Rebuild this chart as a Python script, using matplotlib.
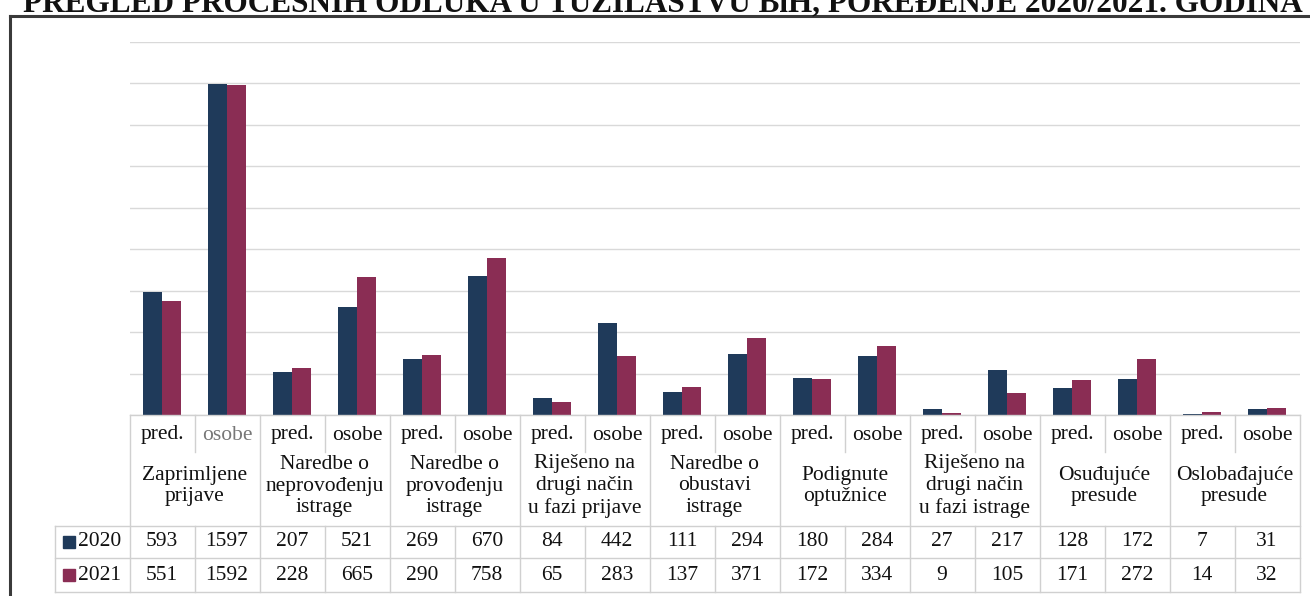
import matplotlib
matplotlib.use("Agg")
import matplotlib.pyplot as plt
from matplotlib.lines import Line2D
from matplotlib.transforms import blended_transform_factory

plt.rcParams['font.family'] = ['Liberation Serif', 'DejaVu Serif']

title = "PREGLED PROCESNIH ODLUKA U TUŽILAŠTVU BiH, POREĐENJE 2020/2021. GODINA"
groups = ["Zaprimljene\nprijave",
          "Naredbe o\nneprovođenju\nistrage",
          "Naredbe o\nprovođenju\nistrage",
          "Riješeno na\ndrugi način\nu fazi prijave",
          "Naredbe o\nobustavi\nistrage",
          "Podignute\noptužnice",
          "Riješeno na\ndrugi način\nu fazi istrage",
          "Osuđujuće\npresude",
          "Oslobađajuće\npresude"]
subs = ["pred.", "osobe"]
series = ["2020", "2021"]
v2020 = [593, 1597, 207, 521, 269, 670, 84, 442, 111, 294, 180, 284, 27, 217, 128, 172, 7, 31]
v2021 = [551, 1592, 228, 665, 290, 758, 65, 283, 137, 371, 172, 334, 9, 105, 171, 272, 14, 32]
colors = ["#1f3a5a", "#8a2d54"]

W, H = 1310, 596
fig = plt.figure(figsize=(W / 100, H / 100), dpi=100)


def fy(py):
    # pixel row from top -> figure fraction
    return 1 - py / H


def fx(px):
    return px / W


# plot area
x0, x1 = 129.5, 1299.5
y_base, y_top = 415, 42
ax = fig.add_axes([fx(x0), fy(y_base), fx(x1) - fx(x0), fy(y_top) - fy(y_base)])
n = len(v2020)
xs = list(range(n))
bw = 0.29
ax.bar([x - bw / 2 for x in xs], v2020, width=bw, color=colors[0], zorder=3)
ax.bar([x + bw / 2 for x in xs], v2021, width=bw, color=colors[1], zorder=3)
ax.set_xlim(-0.5, n - 0.5)
ax.set_ylim(0, 1800)
ax.set_yticks(range(0, 1801, 200))
ax.yaxis.grid(True, color="#d9d9d9", linewidth=1)
ax.set_axisbelow(True)
ax.tick_params(left=False, bottom=False, labelleft=False, labelbottom=False)
for s in ax.spines.values():
    s.set_visible(False)

# data table below the axis
tr = blended_transform_factory(ax.transData, fig.transFigure)
grid_c = "#d0d0d0"
fs = 15.5


def hline(xa, xb, py, transform=tr):
    fig.add_artist(Line2D([xa, xb], [fy(py), fy(py)], color=grid_c, lw=1,
                          transform=transform))


def vline(xd, pa, pb):
    fig.add_artist(Line2D([xd, xd], [fy(pa), fy(pb)], color=grid_c, lw=1,
                          transform=tr))


row_top, sub_bot, ser_top, ser_mid, ser_bot = 415, 452, 526, 558, 592
hline(-0.5, n - 0.5, row_top)
for py in (ser_top, ser_mid, ser_bot):
    fig.add_artist(Line2D([fx(55), fx(x1)], [fy(py), fy(py)], color=grid_c, lw=1,
                          transform=fig.transFigure))
fig.add_artist(Line2D([fx(55), fx(55)], [fy(ser_top), fy(ser_bot)], color=grid_c, lw=1,
                      transform=fig.transFigure))
for k in range(n + 1):
    xb = k - 0.5
    if k % 2 == 0:
        vline(xb, row_top, ser_bot)
    else:
        vline(xb, row_top, sub_bot)
        vline(xb, ser_top, ser_bot)

for i in xs:
    c = "#777777" if i == 1 else "#111111"
    fig.text(i, fy(435), subs[i % 2], transform=tr, ha="center", va="center",
             fontsize=fs, color=c)
    fig.text(i, fy(542), str(v2020[i]), transform=tr, ha="center", va="center",
             fontsize=fs, color="#111111")
    fig.text(i, fy(575), str(v2021[i]), transform=tr, ha="center", va="center",
             fontsize=fs, color="#111111")
for g, name in enumerate(groups):
    fig.text(2 * g + 0.5, fy(486), name, transform=tr, ha="center", va="center",
             fontsize=fs, color="#111111", linespacing=1.2, multialignment="center")

# legend keys in the table
for py, lab, col in zip((542, 575), series, colors):
    fig.patches.append(plt.Rectangle((fx(63), fy(py + 6)), fx(12), 12 / H, color=col,
                                     transform=fig.transFigure))
    fig.text(fx(78), fy(py), lab, ha="left", va="center", fontsize=fs, color="#111111")

# outer frame (left and top visible)
frame_c = "#3a3a3a"
fig.add_artist(Line2D([fx(10), fx(W)], [fy(16), fy(16)], color=frame_c, lw=2.2,
                      transform=fig.transFigure))
fig.add_artist(Line2D([fx(10), fx(10)], [fy(16), 0], color=frame_c, lw=2.2,
                      transform=fig.transFigure))

# title, cut by the top of the page
fig.text(fx(663), fy(11), title, ha="center", va="baseline", fontsize=22.5,
         fontweight="bold", color="#111111")

fig.savefig("out.png", dpi=100)
